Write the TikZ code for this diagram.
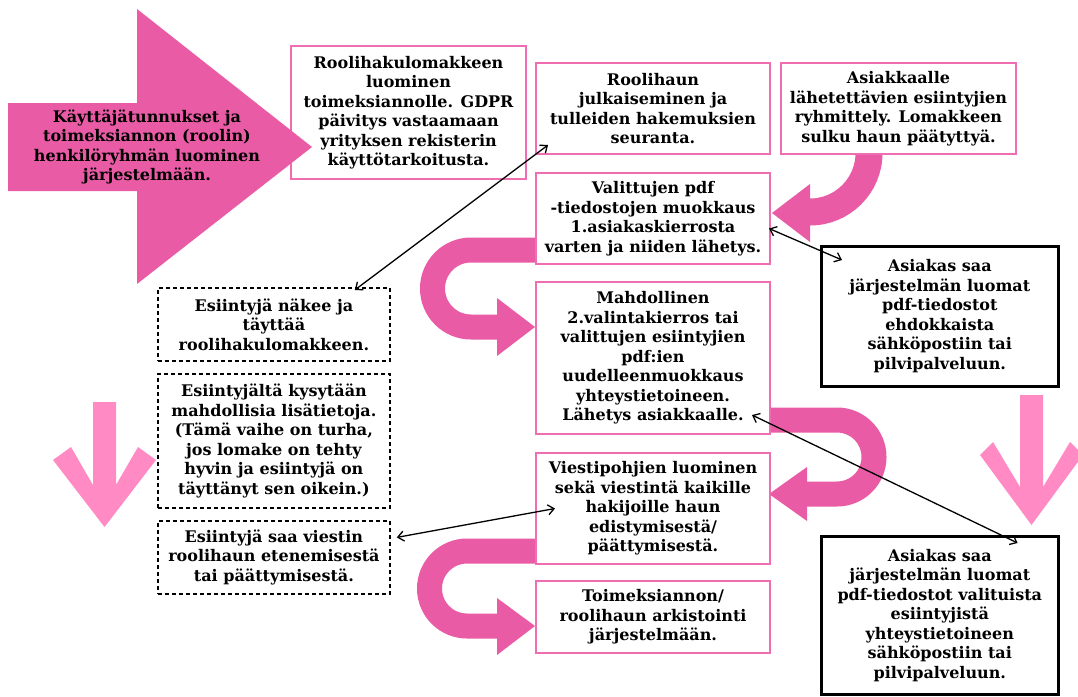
\documentclass[tikz,border=0pt]{standalone}
\usepackage{fontspec}
\setmainfont{DejaVu Serif}
\usepackage{tikz}
\usetikzlibrary{arrows.meta, calc, positioning}
\definecolor{hotpink}{RGB}{234,91,165}
\definecolor{lightpink}{RGB}{255,138,196}
\definecolor{boxpink}{RGB}{239,110,178}

\begin{document}
\begin{tikzpicture}[x=1pt, y=-1pt,
		txt/.style={font=\fontsize{16}{19.5}\selectfont\bfseries, align=center, inner sep=0pt},
		pinkbox/.style={txt, draw=boxpink, line width=2pt, fill=white, anchor=north west},
		blackbox/.style={txt, draw=black, line width=2.6pt, fill=white, anchor=north west},
		dashbox/.style={txt, draw=black, line width=1.8pt, dash pattern=on 4pt off 3pt, fill=white, anchor=north west},
		band/.style={hotpink, line width=25pt},
		link/.style={{Straight Barb[length=6pt,width=10pt]}-{Straight Barb[length=6pt,width=10pt]}, line width=1.3pt}]
		\useasboundingbox (0,0) rectangle (1078,696);
		% 	alanuolet
		\fill[lightpink] (93,402) -- (116,402) -- (116,485) -- (138,447) -- (156,460) -- (104.5,527) -- (53,460) -- (71,447) -- (93,485) -- cycle;
		\fill[lightpink] (1020,395) -- (1043,395) -- (1043,487) -- (1070,442) -- (1083,455) -- (1031.5,525) -- (980,455) -- (993,442) -- (1020,487) -- cycle;
		% 	kaarinuolet
		\draw[band] (536,250) -- (471,250) arc[start angle=270, end angle=90, radius=38.5] -- (498,327);
		\fill[hotpink] (497,298) -- (535,327) -- (497,356) -- cycle;
		\draw[band] (768,420) -- (837,420) arc[start angle=-90, end angle=90, radius=37] -- (806,494);
		\fill[hotpink] (807,467) -- (769,494) -- (807,521) -- cycle;
		\draw[band] (536,551) -- (467,551) arc[start angle=270, end angle=90, radius=37.5] -- (498,626);
		\fill[hotpink] (497,598) -- (535,626) -- (497,655) -- cycle;
		\draw[band, line width=27pt] (869,153) arc[start angle=0, end angle=90, radius=59] -- (809,212);
		\fill[hotpink] (810,184) -- (772,213) -- (810,242) -- cycle;
		
		\node[pinkbox, minimum width=235pt, minimum height=133pt] (lomake) at (290,45) {Roolihakulomakkeen\\ luominen\\ toimeksiannolle. GDPR\\ päivitys vastaamaan\\ yrityksen rekisterin\\ käyttötarkoitusta.};
		\node[pinkbox, minimum width=234pt, minimum height=91pt] (julkaisu) at (535,62) {Roolihaun\\ julkaiseminen ja\\ tulleiden hakemuksien\\ seuranta.};
		\node[pinkbox, minimum width=235pt, minimum height=91pt] (ryhmittely) at (780,62) {Asiakkaalle\\ lähetettävien esiintyjien\\ ryhmittely. Lomakkeen\\ sulku haun päätyttyä.};
		\node[pinkbox, minimum width=234pt, minimum height=91pt] (muokkaus) at (535,172) {Valittujen pdf\\ -tiedostojen muokkaus\\ 1.asiakaskierrosta\\ varten ja niiden lähetys.};
		\node[blackbox, minimum width=237pt, minimum height=140pt] (ehdokkaat) at (820,245) {Asiakas saa\\ järjestelmän luomat\\ pdf-tiedostot\\ ehdokkaista\\ sähköpostiin tai\\ pilvipalveluun.};
		\node[pinkbox, minimum width=234pt, minimum height=152pt] (kierros) at (535,281) {Mahdollinen\\ 2.valintakierros tai\\ valittujen esiintyjien\\ pdf:ien\\ uudelleenmuokkaus\\ yhteystietoineen.\\ Lähetys asiakkaalle.};
		\node[pinkbox, minimum width=234pt, minimum height=111pt] (viestit) at (535,452) {Viestipohjien luominen\\ sekä viestintä kaikille\\ hakijoille haun\\ edistymisestä/\\ päättymisestä.};
		\node[pinkbox, minimum width=234pt, minimum height=72pt] (arkisto) at (535,580) {Toimeksiannon/\\ roolihaun arkistointi\\ järjestelmään.};
		\node[blackbox, minimum width=237pt, minimum height=158pt] (valitut) at (820,535) {Asiakas saa\\ järjestelmän luomat\\ pdf-tiedostot valituista\\ esiintyjistä\\ yhteystietoineen\\ sähköpostiin tai\\ pilvipalveluun.};
		\node[dashbox, minimum width=232pt, minimum height=73pt] (nakee) at (157,287) {Esiintyjä näkee ja\\ täyttää\\ roolihakulomakkeen.};
		\node[dashbox, minimum width=232pt, minimum height=134pt] (lisatiedot) at (157,373) {Esiintyjältä kysytään\\ mahdollisia lisätietoja.\\ (Tämä vaihe on turha,\\ jos lomake on tehty\\ hyvin ja esiintyjä on\\ täyttänyt sen oikein.)};
		\node[dashbox, minimum width=232pt, minimum height=73pt] (tiedote) at (157,520) {Esiintyjä saa viestin\\ roolihaun etenemisestä\\ tai päättymisestä.};
		
		% 	iso nuoli
		\fill[hotpink] (8,103) -- (137,103) -- (137,9) -- (312,147) -- (137,284) -- (137,191) -- (8,191) -- cycle;
		\node[txt] (tunnukset) at (147,147) {Käyttäjätunnukset ja\\ toimeksiannon (roolin)\\ henkilöryhmän luominen\\ järjestelmään.};
		
		\draw[link] ([xshift=-36pt,yshift=-3pt]nakee.north east) -- ([xshift=13pt,yshift=10pt]julkaisu.south west);
		\draw[link] ([xshift=-2pt,yshift=-10pt]muokkaus.east) -- ([xshift=22pt,yshift=-15pt]ehdokkaat.north west);
		\draw[link] ([xshift=-19pt,yshift=20pt]kierros.south east) -- ([xshift=-42pt,yshift=-8pt]valitut.north east);
		\draw[link] ([xshift=6pt,yshift=20pt]tiedote.east) -- ([xshift=20pt]viestit.west);
	\end{tikzpicture}
\end{document}
